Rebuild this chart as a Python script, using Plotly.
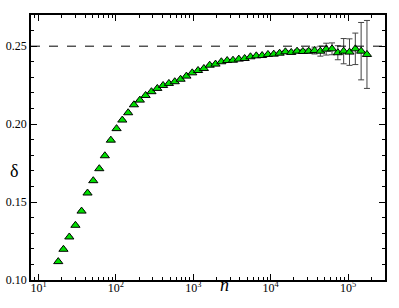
import plotly.graph_objects as go

# sample sizes
n_vals = [18, 21, 25, 30, 36, 43, 51, 61, 72, 86,
          102, 121, 144, 171, 204, 242, 288, 343, 407, 484,
          576, 685, 815, 969, 1152, 1370, 1629, 1937, 2304, 2740,
          3258, 3875, 4608, 5480, 6517, 7750, 9216, 10960, 13035, 15501,
          18432, 21920, 26069, 31002, 36864, 43840, 52137, 62004, 73728, 87680,
          104270, 124010, 147460, 175360]

delta = [0.1118, 0.1197, 0.1276, 0.1351, 0.1442, 0.1558, 0.1637, 0.1714, 0.1797, 0.1897,
         0.1971, 0.2026, 0.2073, 0.2124, 0.2154, 0.2184, 0.2208, 0.2229, 0.2248, 0.2261,
         0.2272, 0.2288, 0.2308, 0.2329, 0.2344, 0.2357, 0.2378, 0.2385, 0.2400, 0.2408,
         0.2410, 0.2417, 0.2421, 0.2432, 0.2438, 0.2440, 0.2447, 0.2449, 0.2455, 0.2464,
         0.2460, 0.2468, 0.2466, 0.2468, 0.2472, 0.2468, 0.2481, 0.2483, 0.2458, 0.2468,
         0.2462, 0.2483, 0.2468, 0.2447]

delta_err = [0, 0, 0, 0, 0, 0, 0, 0, 0, 0,
             0, 0, 0, 0, 0, 0, 0, 0, 0, 0,
             0, 0, 0, 0, 0, 0, 0, 0, 0, 0,
             0, 0, 0, 0, 0, 0, 0, 0.0005, 0.0006, 0.0007,
             0.0008, 0.0009, 0.0010, 0.0013, 0.0022, 0.0032, 0.0038, 0.0038, 0.0045, 0.0081,
             0.0085, 0.0101, 0.0184, 0.0218]

limit = 0.25

x_major = [10, 100, 1000, 10000, 100000]
x_major_text = ["10<sup>1</sup>", "10<sup>2</sup>", "10<sup>3</sup>", "10<sup>4</sup>", "10<sup>5</sup>"]
y_major = [0.10, 0.15, 0.20, 0.25]
y_major_text = ["0.10", "0.15", "0.20", "0.25"]

x_minor = [m * 10 ** d for d in range(0, 6) for m in range(2, 10) if 8 <= m * 10 ** d <= 300000]
y_minor = [round(0.10 + 0.01 * i, 2) for i in range(18)]

serif = "Liberation Serif"

fig = go.Figure()

# dashed reference line at 0.25
fig.add_shape(type="line", xref="paper", yref="y", x0=0, x1=1, y0=limit, y1=limit,
              line=dict(color="black", width=1, dash="dash"))

fig.add_trace(go.Scatter(
    x=n_vals, y=delta, mode="markers",
    error_y=dict(type="data", array=delta_err, visible=True,
                 color="#444444", thickness=1, width=3),
    marker=dict(symbol="triangle-up", size=8, color="#00e000",
                line=dict(color="black", width=1)),
    showlegend=False,
))

axis_common = dict(showline=True, linecolor="black", linewidth=1.5, mirror="ticks",
                   ticks="inside", ticklen=6, tickcolor="black", tickwidth=1,
                   showgrid=False, zeroline=False, automargin=False,
                   tickfont=dict(family=serif, size=12, color="black"))

fig.update_xaxes(type="log", range=[0.903, 5.477], tickmode="array",
                 tickvals=x_major, ticktext=x_major_text, ticklabelstandoff=-4,
                 minor=dict(tickmode="array", tickvals=x_minor, ticks="inside",
                            ticklen=3, tickcolor="black"),
                 **axis_common)
fig.update_yaxes(range=[0.10, 0.27], tickmode="array",
                 tickvals=y_major, ticktext=y_major_text,
                 minor=dict(tickmode="array", tickvals=y_minor, ticks="inside",
                            ticklen=3, tickcolor="black"),
                 **axis_common)

fig.add_annotation(text="δ", xref="paper", yref="paper", x=-0.066, y=0.41,
                   showarrow=False, font=dict(family=serif, size=18, color="black"))
fig.add_annotation(text="<i>n</i>", xref="paper", yref="paper", x=0.547, y=-0.017,
                   yanchor="middle", showarrow=False,
                   font=dict(family=serif, size=18, color="black"))

fig.update_layout(width=399, height=308,
                  margin=dict(l=31, r=14, t=15, b=28),
                  paper_bgcolor="white", plot_bgcolor="white")

# drop the browser's default page margin so the figure sits at the corner
fig.write_html("out.html", config={"displayModeBar": False},
               post_script="document.body.style.margin='0px';")
